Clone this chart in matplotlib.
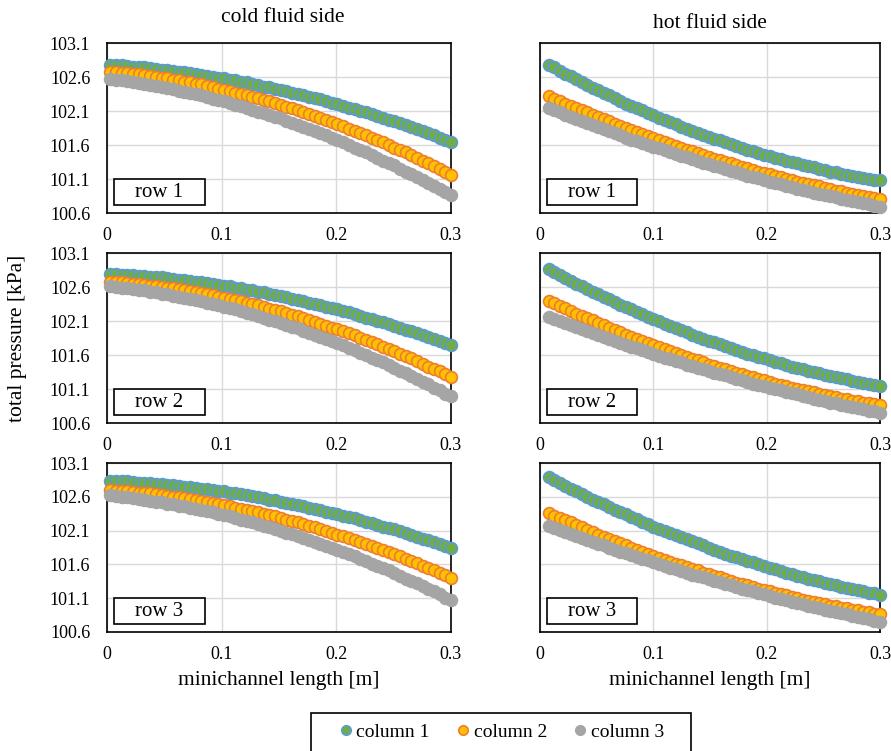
# Total pressure along the minichannels, cold and hot fluid side, rows 1-3
import matplotlib
matplotlib.use('Agg')
import matplotlib.pyplot as plt
from matplotlib.patches import Rectangle
import numpy as np

plt.rcParams['font.family'] = ['Liberation Serif', 'DejaVu Serif']

# sampling positions along the channel [m]
x_cold = np.linspace(0.003, 0.3, 61)
x_hot = np.linspace(0.0075, 0.3, 61)

series_names = ['column 1', 'column 2', 'column 3']
row_names = ['row 1', 'row 2', 'row 3']
side_titles = ['cold fluid side', 'hot fluid side']
x_ticks = [0, 0.1, 0.2, 0.3]
x_tick_labels = ['0', '0.1', '0.2', '0.3']
y_ticks = [100.6, 101.1, 101.6, 102.1, 102.6, 103.1]

# ---- cold fluid side [kPa] ----
cold_r1_c1 = [102.78, 102.77, 102.77, 102.76, 102.75, 102.75, 102.74, 102.73, 102.72, 102.71,
              102.70, 102.69, 102.68, 102.67, 102.66, 102.64, 102.63, 102.62, 102.60, 102.59,
              102.58, 102.56, 102.55, 102.53, 102.52, 102.50, 102.48, 102.46, 102.45, 102.43,
              102.41, 102.39, 102.37, 102.35, 102.33, 102.31, 102.29, 102.27, 102.25, 102.22,
              102.20, 102.18, 102.15, 102.13, 102.10, 102.08, 102.05, 102.03, 102.00, 101.97,
              101.95, 101.92, 101.89, 101.86, 101.83, 101.80, 101.77, 101.74, 101.71, 101.68,
              101.65]
cold_r1_c2 = [102.68, 102.67, 102.66, 102.66, 102.65, 102.64, 102.63, 102.61, 102.60, 102.59,
              102.58, 102.56, 102.55, 102.53, 102.52, 102.50, 102.49, 102.47, 102.45, 102.43,
              102.41, 102.39, 102.37, 102.35, 102.33, 102.31, 102.29, 102.26, 102.24, 102.22,
              102.19, 102.16, 102.14, 102.11, 102.08, 102.06, 102.03, 102.00, 101.97, 101.94,
              101.91, 101.88, 101.84, 101.81, 101.78, 101.74, 101.71, 101.67, 101.64, 101.60,
              101.56, 101.53, 101.49, 101.45, 101.41, 101.37, 101.33, 101.29, 101.25, 101.20,
              101.16]
cold_r1_c3 = [102.57, 102.56, 102.55, 102.54, 102.52, 102.51, 102.50, 102.48, 102.47, 102.45,
              102.44, 102.42, 102.40, 102.38, 102.36, 102.35, 102.33, 102.30, 102.28, 102.26,
              102.24, 102.22, 102.19, 102.17, 102.15, 102.12, 102.09, 102.07, 102.04, 102.01,
              101.99, 101.96, 101.93, 101.90, 101.87, 101.84, 101.80, 101.77, 101.74, 101.70,
              101.67, 101.64, 101.60, 101.56, 101.53, 101.49, 101.45, 101.41, 101.37, 101.34,
              101.30, 101.25, 101.21, 101.17, 101.13, 101.09, 101.04, 101.00, 100.95, 100.91,
              100.86]
cold_r2_c1 = [102.79, 102.79, 102.78, 102.78, 102.77, 102.76, 102.76, 102.75, 102.74, 102.74,
              102.73, 102.72, 102.71, 102.70, 102.69, 102.68, 102.67, 102.66, 102.65, 102.63,
              102.62, 102.61, 102.59, 102.58, 102.56, 102.55, 102.53, 102.52, 102.50, 102.48,
              102.47, 102.45, 102.43, 102.41, 102.39, 102.37, 102.35, 102.33, 102.31, 102.29,
              102.27, 102.25, 102.23, 102.20, 102.18, 102.15, 102.13, 102.10, 102.08, 102.05,
              102.03, 102.00, 101.97, 101.95, 101.92, 101.89, 101.86, 101.83, 101.80, 101.77,
              101.74]
cold_r2_c2 = [102.68, 102.67, 102.67, 102.66, 102.65, 102.64, 102.63, 102.62, 102.61, 102.60,
              102.59, 102.58, 102.57, 102.55, 102.54, 102.52, 102.51, 102.49, 102.48, 102.46,
              102.44, 102.43, 102.41, 102.39, 102.37, 102.35, 102.33, 102.31, 102.28, 102.26,
              102.24, 102.22, 102.19, 102.17, 102.14, 102.11, 102.09, 102.06, 102.03, 102.00,
              101.98, 101.95, 101.92, 101.89, 101.85, 101.82, 101.79, 101.76, 101.72, 101.69,
              101.66, 101.62, 101.58, 101.55, 101.51, 101.47, 101.43, 101.40, 101.36, 101.32,
              101.28]
cold_r2_c3 = [102.61, 102.60, 102.59, 102.58, 102.57, 102.56, 102.55, 102.53, 102.52, 102.50,
              102.49, 102.47, 102.46, 102.44, 102.43, 102.41, 102.39, 102.37, 102.35, 102.33,
              102.31, 102.29, 102.27, 102.24, 102.22, 102.20, 102.17, 102.15, 102.12, 102.10,
              102.07, 102.04, 102.01, 101.99, 101.96, 101.93, 101.90, 101.87, 101.83, 101.80,
              101.77, 101.74, 101.70, 101.67, 101.63, 101.60, 101.56, 101.52, 101.49, 101.45,
              101.41, 101.37, 101.33, 101.29, 101.25, 101.21, 101.17, 101.12, 101.08, 101.03,
              100.99]
cold_r3_c1 = [102.84, 102.84, 102.83, 102.83, 102.82, 102.81, 102.81, 102.80, 102.79, 102.79,
              102.78, 102.77, 102.76, 102.75, 102.74, 102.73, 102.72, 102.71, 102.70, 102.69,
              102.68, 102.66, 102.65, 102.64, 102.62, 102.61, 102.59, 102.58, 102.56, 102.55,
              102.53, 102.51, 102.50, 102.48, 102.46, 102.44, 102.42, 102.40, 102.38, 102.36,
              102.34, 102.32, 102.30, 102.28, 102.26, 102.23, 102.21, 102.19, 102.16, 102.14,
              102.12, 102.09, 102.06, 102.04, 102.01, 101.98, 101.96, 101.93, 101.90, 101.87,
              101.84]
cold_r3_c2 = [102.70, 102.69, 102.69, 102.68, 102.67, 102.66, 102.65, 102.65, 102.64, 102.62,
              102.61, 102.60, 102.59, 102.58, 102.57, 102.55, 102.54, 102.52, 102.51, 102.49,
              102.48, 102.46, 102.44, 102.42, 102.41, 102.39, 102.37, 102.35, 102.33, 102.31,
              102.29, 102.26, 102.24, 102.22, 102.20, 102.17, 102.15, 102.12, 102.10, 102.07,
              102.04, 102.02, 101.99, 101.96, 101.93, 101.90, 101.87, 101.84, 101.81, 101.78,
              101.75, 101.72, 101.68, 101.65, 101.62, 101.58, 101.55, 101.51, 101.48, 101.44,
              101.40]
cold_r3_c3 = [102.62, 102.61, 102.60, 102.59, 102.58, 102.57, 102.56, 102.54, 102.53, 102.52,
              102.50, 102.49, 102.47, 102.46, 102.44, 102.42, 102.40, 102.39, 102.37, 102.35,
              102.33, 102.31, 102.29, 102.26, 102.24, 102.22, 102.20, 102.17, 102.15, 102.12,
              102.10, 102.07, 102.05, 102.02, 101.99, 101.96, 101.93, 101.90, 101.87, 101.84,
              101.81, 101.78, 101.75, 101.72, 101.68, 101.65, 101.61, 101.58, 101.54, 101.51,
              101.47, 101.43, 101.39, 101.36, 101.32, 101.28, 101.24, 101.20, 101.16, 101.11,
              101.07]

# ---- hot fluid side [kPa] ----
hot_r1_c1 = [102.78, 102.74, 102.69, 102.65, 102.61, 102.57, 102.53, 102.48, 102.44, 102.41,
             102.37, 102.33, 102.29, 102.25, 102.21, 102.18, 102.14, 102.11, 102.07, 102.04,
             102.00, 101.97, 101.94, 101.91, 101.87, 101.84, 101.81, 101.78, 101.75, 101.72,
             101.69, 101.67, 101.64, 101.61, 101.58, 101.56, 101.53, 101.51, 101.48, 101.46,
             101.44, 101.41, 101.39, 101.37, 101.35, 101.33, 101.31, 101.29, 101.27, 101.25,
             101.23, 101.21, 101.20, 101.18, 101.16, 101.15, 101.13, 101.12, 101.10, 101.09,
             101.08]
hot_r1_c2 = [102.32, 102.28, 102.25, 102.21, 102.18, 102.14, 102.11, 102.08, 102.04, 102.01,
             101.98, 101.95, 101.91, 101.88, 101.85, 101.82, 101.79, 101.76, 101.73, 101.70,
             101.67, 101.64, 101.62, 101.59, 101.56, 101.53, 101.51, 101.48, 101.45, 101.43,
             101.40, 101.38, 101.35, 101.33, 101.30, 101.28, 101.26, 101.23, 101.21, 101.19,
             101.17, 101.15, 101.13, 101.10, 101.08, 101.06, 101.04, 101.03, 101.01, 100.99,
             100.97, 100.95, 100.93, 100.92, 100.90, 100.88, 100.87, 100.85, 100.84, 100.82,
             100.81]
hot_r1_c3 = [102.14, 102.11, 102.08, 102.04, 102.01, 101.98, 101.95, 101.92, 101.89, 101.86,
             101.83, 101.80, 101.77, 101.74, 101.71, 101.68, 101.66, 101.63, 101.60, 101.57,
             101.55, 101.52, 101.49, 101.47, 101.44, 101.42, 101.39, 101.36, 101.34, 101.32,
             101.29, 101.27, 101.24, 101.22, 101.20, 101.17, 101.15, 101.13, 101.11, 101.09,
             101.06, 101.04, 101.02, 101.00, 100.98, 100.96, 100.94, 100.92, 100.90, 100.88,
             100.86, 100.85, 100.83, 100.81, 100.79, 100.78, 100.76, 100.74, 100.73, 100.71,
             100.69]
hot_r2_c1 = [102.86, 102.82, 102.77, 102.73, 102.69, 102.65, 102.61, 102.57, 102.53, 102.49,
             102.45, 102.42, 102.38, 102.34, 102.31, 102.27, 102.23, 102.20, 102.16, 102.13,
             102.10, 102.06, 102.03, 102.00, 101.97, 101.94, 101.90, 101.87, 101.84, 101.81,
             101.79, 101.76, 101.73, 101.70, 101.68, 101.65, 101.62, 101.60, 101.57, 101.55,
             101.52, 101.50, 101.48, 101.45, 101.43, 101.41, 101.39, 101.37, 101.35, 101.33,
             101.31, 101.29, 101.27, 101.26, 101.24, 101.22, 101.20, 101.19, 101.17, 101.16,
             101.14]
hot_r2_c2 = [102.40, 102.36, 102.32, 102.29, 102.25, 102.21, 102.18, 102.14, 102.11, 102.07,
             102.04, 102.00, 101.97, 101.94, 101.90, 101.87, 101.84, 101.81, 101.78, 101.75,
             101.72, 101.69, 101.66, 101.63, 101.60, 101.57, 101.54, 101.52, 101.49, 101.46,
             101.44, 101.41, 101.39, 101.36, 101.34, 101.32, 101.29, 101.27, 101.25, 101.23,
             101.20, 101.18, 101.16, 101.14, 101.12, 101.10, 101.08, 101.07, 101.05, 101.03,
             101.01, 101.00, 100.98, 100.96, 100.95, 100.93, 100.92, 100.90, 100.89, 100.88,
             100.86]
hot_r2_c3 = [102.16, 102.13, 102.10, 102.07, 102.04, 102.01, 101.98, 101.95, 101.92, 101.89,
             101.86, 101.83, 101.81, 101.78, 101.75, 101.72, 101.70, 101.67, 101.64, 101.62,
             101.59, 101.56, 101.54, 101.51, 101.49, 101.46, 101.44, 101.41, 101.39, 101.37,
             101.34, 101.32, 101.30, 101.27, 101.25, 101.23, 101.21, 101.18, 101.16, 101.14,
             101.12, 101.10, 101.08, 101.06, 101.04, 101.02, 101.00, 100.98, 100.96, 100.94,
             100.92, 100.90, 100.89, 100.87, 100.85, 100.83, 100.82, 100.80, 100.78, 100.77,
             100.75]
hot_r3_c1 = [102.89, 102.85, 102.81, 102.76, 102.72, 102.68, 102.64, 102.60, 102.56, 102.53,
             102.49, 102.45, 102.41, 102.38, 102.34, 102.30, 102.27, 102.23, 102.20, 102.16,
             102.13, 102.10, 102.06, 102.03, 102.00, 101.97, 101.94, 101.91, 101.88, 101.85,
             101.82, 101.79, 101.76, 101.73, 101.71, 101.68, 101.65, 101.63, 101.60, 101.57,
             101.55, 101.53, 101.50, 101.48, 101.46, 101.43, 101.41, 101.39, 101.37, 101.35,
             101.33, 101.31, 101.29, 101.27, 101.25, 101.23, 101.22, 101.20, 101.18, 101.17,
             101.15]
hot_r3_c2 = [102.36, 102.32, 102.29, 102.25, 102.22, 102.18, 102.15, 102.11, 102.08, 102.04,
             102.01, 101.98, 101.94, 101.91, 101.88, 101.85, 101.82, 101.79, 101.76, 101.73,
             101.70, 101.67, 101.64, 101.61, 101.59, 101.56, 101.53, 101.51, 101.48, 101.46,
             101.43, 101.41, 101.38, 101.36, 101.33, 101.31, 101.29, 101.26, 101.24, 101.22,
             101.20, 101.18, 101.16, 101.14, 101.12, 101.10, 101.08, 101.06, 101.04, 101.03,
             101.01, 100.99, 100.98, 100.96, 100.95, 100.93, 100.92, 100.90, 100.89, 100.87,
             100.86]
hot_r3_c3 = [102.17, 102.14, 102.11, 102.08, 102.05, 102.02, 101.99, 101.96, 101.93, 101.90,
             101.88, 101.85, 101.82, 101.79, 101.77, 101.74, 101.71, 101.68, 101.66, 101.63,
             101.61, 101.58, 101.55, 101.53, 101.50, 101.48, 101.45, 101.43, 101.41, 101.38,
             101.36, 101.34, 101.31, 101.29, 101.27, 101.24, 101.22, 101.20, 101.18, 101.16,
             101.13, 101.11, 101.09, 101.07, 101.05, 101.03, 101.01, 100.99, 100.97, 100.95,
             100.93, 100.91, 100.89, 100.88, 100.86, 100.84, 100.82, 100.81, 100.79, 100.77,
             100.75]

cold = [[cold_r1_c1, cold_r1_c2, cold_r1_c3],
        [cold_r2_c1, cold_r2_c2, cold_r2_c3],
        [cold_r3_c1, cold_r3_c2, cold_r3_c3]]
hot = [[hot_r1_c1, hot_r1_c2, hot_r1_c3],
       [hot_r2_c1, hot_r2_c2, hot_r2_c3],
       [hot_r3_c1, hot_r3_c2, hot_r3_c3]]

face_colors = ['#70AD47', '#FFC000', '#A5A5A5']
edge_colors = ['#5B9BD5', '#ED7D31', '#A5A5A5']

W, H = 891, 751
fig = plt.figure(figsize=(W / 100, H / 100), dpi=100)

# axes boxes in pixels: (left, top, right, bottom)
col_px = [(107, 451), (540, 880)]
row_px = [(43, 213), (253, 423), (463, 632)]

handles = []
for r in range(3):
    for c in range(2):
        x0, x1 = col_px[c]
        y0, y1 = row_px[r]
        ax = fig.add_axes([x0 / W, 1 - y1 / H, (x1 - x0) / W, (y1 - y0) / H])
        xs = x_cold if c == 0 else x_hot
        data = cold[r] if c == 0 else hot[r]
        for k in range(3):
            h, = ax.plot(xs, data[k], linestyle='none', marker='o', markersize=8.5,
                         markerfacecolor=face_colors[k], markeredgecolor=edge_colors[k],
                         markeredgewidth=1.2, clip_on=False, label=series_names[k], zorder=3 + k)
            if r == 0 and c == 0:
                handles.append(h)
        ax.set_xlim(0, 0.3)
        ax.set_ylim(100.6, 103.1)
        ax.set_xticks(x_ticks)
        ax.set_xticklabels(x_tick_labels)
        ax.set_yticks(y_ticks)
        if c == 0:
            ax.set_yticklabels(['%.1f' % v for v in y_ticks])
        else:
            ax.set_yticklabels([])
        ax.grid(True, color='#D9D9D9', linewidth=1.0)
        ax.set_axisbelow(True)
        ax.tick_params(axis='both', length=0, labelsize=13)
        ax.tick_params(axis='x', pad=10)
        ax.tick_params(axis='y', pad=12)
        for sp in ax.spines.values():
            sp.set_color('black')
            sp.set_linewidth(1.2)
        # row label box
        ax.add_patch(Rectangle((0.02, 0.045), 0.265, 0.157, transform=ax.transAxes,
                               facecolor='white', edgecolor='black', linewidth=1.2,
                               zorder=10, clip_on=False))
        ax.text(0.1525, 0.12, row_names[r], transform=ax.transAxes, ha='center',
                va='center', fontsize=15, zorder=11)

# column titles and axis labels
fig.text(283 / W, 1 - 18 / H, side_titles[0], ha='center', va='center', fontsize=15.5)
fig.text(710 / W, 1 - 23 / H, side_titles[1], ha='center', va='center', fontsize=15.5)
fig.text(18 / W, 1 - 338 / H, 'total pressure [kPa]', rotation=90, ha='center',
         va='center', fontsize=15.5)
fig.text(279 / W, 1 - 681 / H, 'minichannel length [m]', ha='center', va='center', fontsize=15.5)
fig.text(710 / W, 1 - 681 / H, 'minichannel length [m]', ha='center', va='center', fontsize=15.5)

# legend with its own frame
fig.patches.append(Rectangle((311 / W, 1 - 753 / H), 380 / W, 40 / H, transform=fig.transFigure,
                             facecolor='white', edgecolor='black', linewidth=1.2))
fig.legend(handles, series_names, loc='center', bbox_to_anchor=(501 / W, 1 - 732 / H),
           ncol=3, frameon=False, fontsize=14, handlelength=0.8, handletextpad=0.15,
           columnspacing=1.3, markerscale=0.8)

plt.savefig('out.png', dpi=100)
